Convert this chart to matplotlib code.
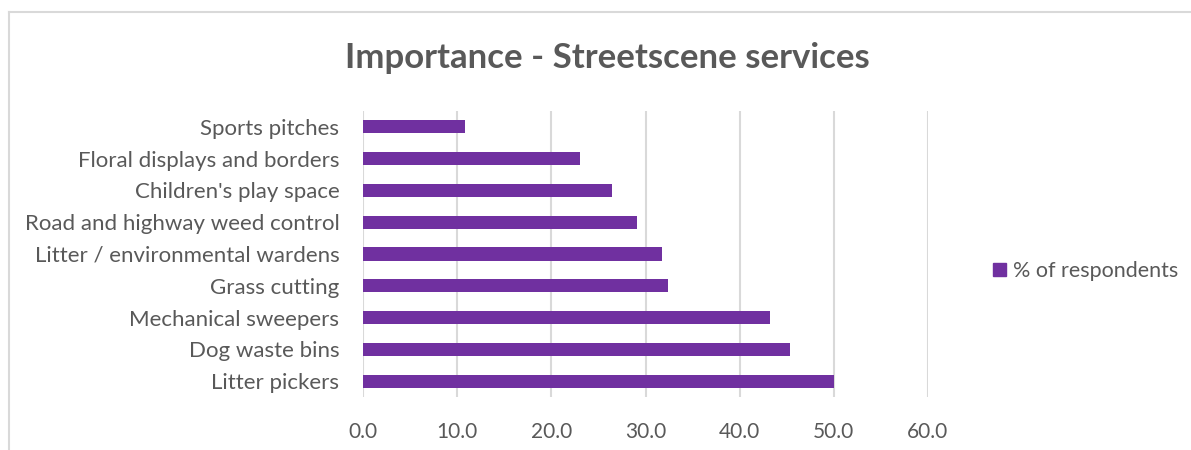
import matplotlib
matplotlib.use("Agg")
import matplotlib.pyplot as plt
from matplotlib.lines import Line2D
from matplotlib.patches import Patch

plt.rcParams['font.family'] = ['Lato', 'DejaVu Sans']

categories = ["Litter pickers", "Dog waste bins", "Mechanical sweepers", "Grass cutting",
              "Litter / environmental wardens", "Road and highway weed control",
              "Children's play space", "Floral displays and borders", "Sports pitches"]
values = [50.0, 45.3, 43.2, 32.4, 31.8, 29.1, 26.4, 23.0, 10.8]
xticks = [0, 10, 20, 30, 40, 50, 60]
series_name = "% of respondents"

BAR = "#7030A0"
TXT = "#595959"
GRID = "#D9D9D9"

fig = plt.figure(figsize=(11.91, 4.5), dpi=100)
ax = fig.add_axes([363 / 1191, 1 - 397 / 450, (928 - 363) / 1191, (397 - 111) / 450])

ax.barh(range(len(categories)), values, height=0.41, color=BAR, zorder=3)
ax.set_xlim(0, 60)
ax.set_ylim(-0.5, len(categories) - 0.5)
ax.set_xticks(xticks)
ax.set_xticklabels([f"{t:.1f}" for t in xticks])
ax.set_yticks(range(len(categories)))
ax.set_yticklabels(categories)
ax.tick_params(axis='both', length=0, colors=TXT)
ax.tick_params(axis='x', pad=18, labelsize=15)
ax.tick_params(axis='y', pad=17, labelsize=16)
ax.grid(axis='x', color=GRID, linewidth=1.5, zorder=0)
for s in ax.spines.values():
    s.set_visible(False)

fig.text(607 / 1191, 1 - 58 / 450, "Importance - Streetscene services", ha='center', va='center',
         fontsize=25, fontweight='bold', color=TXT)

leg = fig.legend(handles=[Patch(color=BAR, label=series_name)], loc='center left',
                 bbox_to_anchor=(974 / 1191, 1 - 271 / 450), frameon=False,
                 fontsize=15.5, handlelength=0.6, handleheight=0.6, handletextpad=0.33)
for t in leg.get_texts():
    t.set_color(TXT)

# chart border (partly cut off in the original)
fig.add_artist(Line2D([9 / 1191, 9 / 1191], [0, 1 - 12 / 450], color=GRID, linewidth=1.5))
fig.add_artist(Line2D([9 / 1191, 1], [1 - 12 / 450, 1 - 12 / 450], color=GRID, linewidth=1.5))

fig.savefig("out.png", dpi=100)
